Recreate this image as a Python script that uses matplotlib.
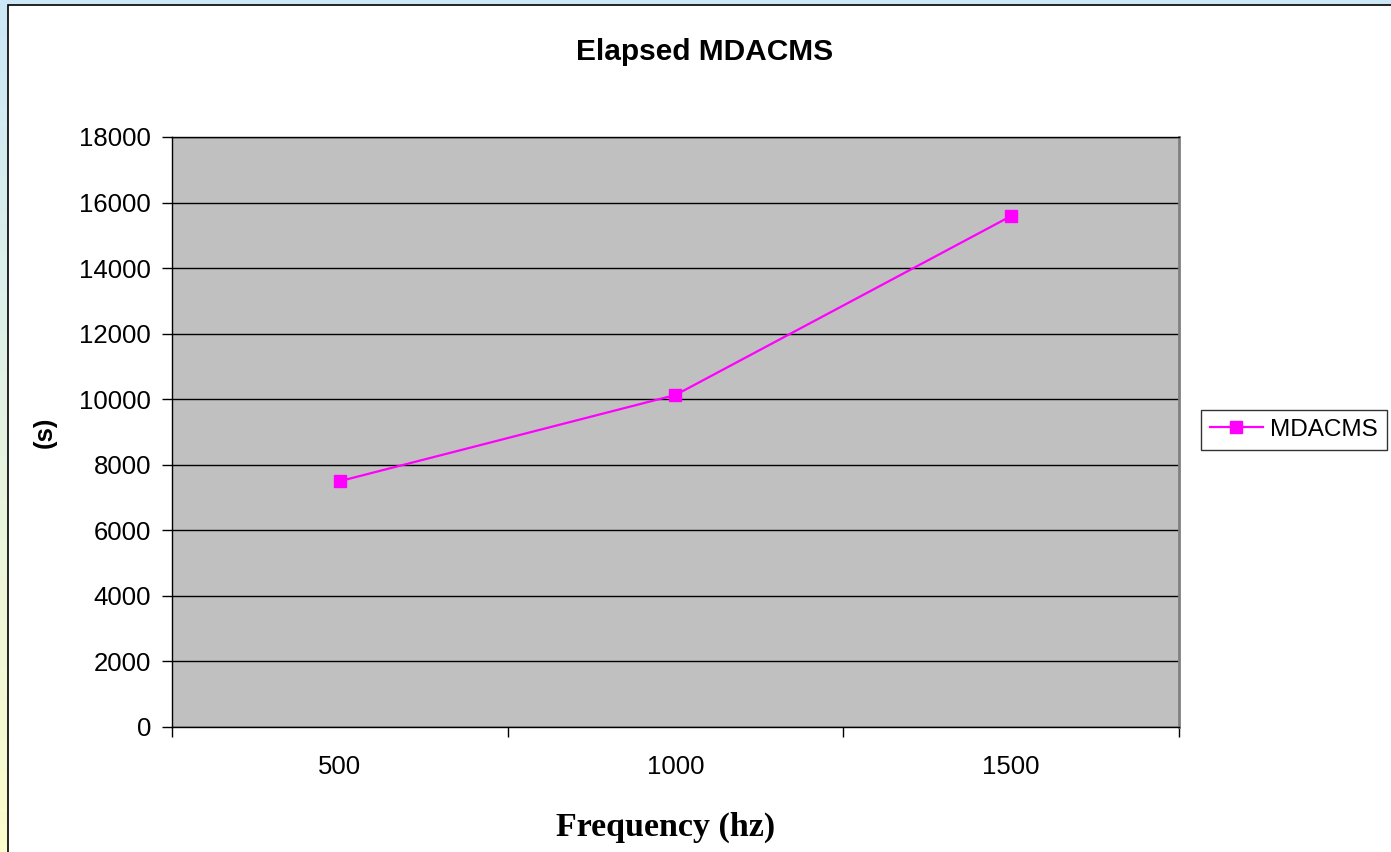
import matplotlib.pyplot as plt
import numpy as np
from matplotlib.patches import Rectangle

# data
categories = ['500', '1000', '1500']
elapsed = [7500, 10130, 15590]
series_name = 'MDACMS'
y_ticks = [0, 2000, 4000, 6000, 8000, 10000, 12000, 14000, 16000, 18000]

W, H = 1391, 852
fig = plt.figure(figsize=(W / 100, H / 100), dpi=100)

# background gradient (slide backdrop), blue at top to pale yellow at bottom
bg = fig.add_axes([0, 0, 1, 1], zorder=-10)
top = np.array([0.80, 0.91, 0.97])
bot = np.array([0.99, 0.99, 0.80])
t = np.linspace(0, 1, 256)[:, None]
grad = top * (1 - t) + bot * t
bg.imshow(grad[:, None, :], aspect='auto', extent=[0, 1, 0, 1])
bg.add_patch(Rectangle((8 / W, -0.01), 1.0, 1 - 5 / H + 0.01, facecolor='white',
                       edgecolor='black', linewidth=1.2, transform=bg.transAxes))
bg.set_xlim(0, 1)
bg.set_ylim(0, 1)
bg.axis('off')

# plot area
x0, x1 = 172, 1179
y0, y1 = 137, 727
ax = fig.add_axes([x0 / W, 1 - y1 / H, (x1 - x0) / W, (y1 - y0) / H])
ax.set_facecolor('#C0C0C0')

x = np.arange(1, len(categories) + 1)
ax.plot(x, elapsed, color='#FF00FF', linewidth=1.6, marker='s', markersize=9,
        markerfacecolor='#FF00FF', markeredgecolor='#FF00FF', label=series_name)

ax.set_xlim(0.5, len(categories) + 0.5)
ax.set_ylim(0, 18000)
ax.set_yticks(y_ticks)
ax.set_yticklabels([str(v) for v in y_ticks], fontsize=18.5, family='Liberation Sans')
ax.yaxis.grid(True, color='black', linewidth=1)
ax.set_axisbelow(True)

ax.set_xticks(np.arange(0.5, len(categories) + 1, 1))
ax.set_xticklabels([])
ax.set_xticks(x, minor=True)
ax.set_xticklabels(categories, minor=True, fontsize=18.5, family='Liberation Sans')
ax.tick_params(axis='x', which='minor', length=0, pad=20)
ax.tick_params(axis='both', which='major', length=7, width=1, direction='out', color='black')
ax.tick_params(axis='y', pad=8)

for s in ['left', 'bottom', 'top']:
    ax.spines[s].set_color('black')
    ax.spines[s].set_linewidth(1)
ax.spines['right'].set_color('#808080')
ax.spines['right'].set_linewidth(2)

# titles
fig.text(705 / W, 1 - 52 / H, 'Elapsed MDACMS', ha='center', va='center',
         fontsize=21.5, fontweight='bold', family='Liberation Sans')
fig.text(666 / W, 1 - 827 / H, 'Frequency (hz)', ha='center', va='center',
         fontsize=24.5, fontweight='bold', family='Liberation Serif')
fig.text(45 / W, 1 - 432 / H, '(s)', ha='center', va='center', rotation=90,
         fontsize=18.5, fontweight='bold', family='Liberation Sans')

leg = ax.legend(loc='center left', bbox_to_anchor=(1201 / W, 1 - 430 / H),
                bbox_transform=fig.transFigure, frameon=True, fancybox=False,
                prop={'family': 'Liberation Sans', 'size': 17.5}, handlelength=2.2,
                borderpad=0.35, handletextpad=0.3, borderaxespad=0)
leg.get_frame().set_edgecolor('black')
leg.get_frame().set_linewidth(1)

fig.savefig('out.png', dpi=100)
